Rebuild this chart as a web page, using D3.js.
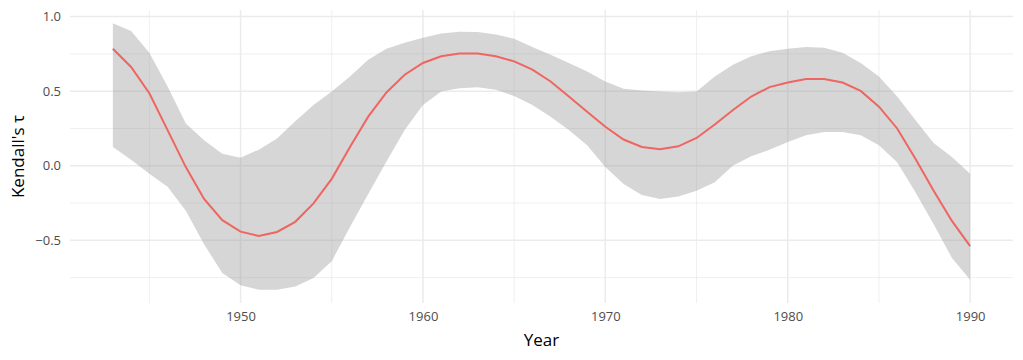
<!DOCTYPE html>
<html>
<head>
<meta charset="utf-8">
<script src="https://cdn.jsdelivr.net/npm/d3@7"></script>
<style>
  html, body { margin: 0; padding: 0; background: #fff; }
  svg { display: block; }
  text { font-family: "Open Sans", "Noto Sans", sans-serif; }
</style>
</head>
<body>
<div id="chart"></div>
<script>
const years = d3.range(1943, 1991);
const tau = [
  0.784, 0.662, 0.486, 0.239, -0.009, -0.223, -0.365, -0.442,
  -0.471, -0.444, -0.376, -0.252, -0.088, 0.126, 0.329, 0.491,
  0.610, 0.689, 0.734, 0.752, 0.752, 0.734, 0.700, 0.644,
  0.565, 0.464, 0.362, 0.261, 0.176, 0.126, 0.110, 0.130,
  0.186, 0.277, 0.374, 0.464, 0.527, 0.558, 0.581, 0.581,
  0.558, 0.502, 0.396, 0.250, 0.047, -0.167, -0.370, -0.539
];
const upper = [
  0.955, 0.903, 0.757, 0.531, 0.284, 0.171, 0.081, 0.054,
  0.108, 0.182, 0.299, 0.407, 0.497, 0.599, 0.711, 0.784,
  0.824, 0.858, 0.887, 0.899, 0.896, 0.880, 0.851, 0.797,
  0.745, 0.689, 0.632, 0.565, 0.516, 0.504, 0.497, 0.493,
  0.497, 0.599, 0.678, 0.734, 0.768, 0.784, 0.797, 0.791,
  0.757, 0.689, 0.599, 0.464, 0.306, 0.153, 0.058, -0.054
];
const lower = [
  0.126, 0.041, -0.054, -0.140, -0.302, -0.527, -0.719, -0.802,
  -0.831, -0.831, -0.809, -0.752, -0.640, -0.410, -0.189, 0.029,
  0.239, 0.407, 0.497, 0.520, 0.527, 0.509, 0.468, 0.407,
  0.329, 0.239, 0.137, -0.009, -0.122, -0.196, -0.223, -0.207,
  -0.167, -0.111, 0.002, 0.063, 0.108, 0.160, 0.205, 0.227,
  0.227, 0.205, 0.137, 0.024, -0.178, -0.392, -0.618, -0.764
];
const xTicks = [1950, 1960, 1970, 1980, 1990];
const xMinor = [1945, 1955, 1965, 1975, 1985];
const yTicks = [-0.5, 0.0, 0.5, 1.0];
const yMinor = [-0.75, -0.25, 0.25, 0.75];

const W = 1023, H = 360;
const m = { left: 70, right: 10, top: 10, bottom: 57 };

const data = years.map((y, i) => ({ year: y, tau: tau[i], lo: lower[i], hi: upper[i] }));

const xMin = d3.min(years), xMax = d3.max(years);
const xPad = (xMax - xMin) * 0.05;
const yLo = d3.min(lower), yHi = d3.max(upper);
const yPad = (yHi - yLo) * 0.05;

const x = d3.scaleLinear().domain([xMin - xPad, xMax + xPad]).range([m.left, W - m.right]);
const y = d3.scaleLinear().domain([yLo - yPad, yHi + yPad]).range([H - m.bottom, m.top]);

const svg = d3.select("#chart").append("svg").attr("width", W).attr("height", H);

const grid = svg.append("g");
// minor grid
grid.selectAll(".ym").data(yMinor).join("line")
  .attr("x1", m.left).attr("x2", W - m.right)
  .attr("y1", d => y(d)).attr("y2", d => y(d))
  .attr("stroke", "#ebebeb").attr("stroke-width", 0.8);
grid.selectAll(".xm").data(xMinor).join("line")
  .attr("y1", m.top).attr("y2", H - m.bottom)
  .attr("x1", d => x(d)).attr("x2", d => x(d))
  .attr("stroke", "#ebebeb").attr("stroke-width", 0.8);
// major grid
grid.selectAll(".yM").data(yTicks).join("line")
  .attr("x1", m.left).attr("x2", W - m.right)
  .attr("y1", d => y(d)).attr("y2", d => y(d))
  .attr("stroke", "#ebebeb").attr("stroke-width", 1.5);
grid.selectAll(".xM").data(xTicks).join("line")
  .attr("y1", m.top).attr("y2", H - m.bottom)
  .attr("x1", d => x(d)).attr("x2", d => x(d))
  .attr("stroke", "#ebebeb").attr("stroke-width", 1.5);

// ribbon
svg.append("path").datum(data)
  .attr("d", d3.area().x(d => x(d.year)).y0(d => y(d.lo)).y1(d => y(d.hi)))
  .attr("fill", "#999999").attr("fill-opacity", 0.4);

// line
svg.append("path").datum(data)
  .attr("d", d3.line().x(d => x(d.year)).y(d => y(d.tau)))
  .attr("fill", "none").attr("stroke", "#ee6561").attr("stroke-width", 2);

// axes (no lines, no ticks)
const xAxis = d3.axisBottom(x).tickValues(xTicks).tickSize(0).tickPadding(9).tickFormat(d3.format("d"));
const gx = svg.append("g").attr("transform", `translate(0,${H - m.bottom})`).call(xAxis);
gx.select(".domain").remove();
gx.selectAll("text").attr("fill", "#4d4d4d").style("font-size", "13px").style("font-family", "'Open Sans', sans-serif");

const yAxis = d3.axisLeft(y).tickValues(yTicks).tickSize(0).tickPadding(9).tickFormat(d3.format(".1f"));
const gy = svg.append("g").attr("transform", `translate(${m.left},0)`).call(yAxis);
gy.select(".domain").remove();
gy.selectAll("text").attr("fill", "#4d4d4d").style("font-size", "13px").style("font-family", "'Open Sans', sans-serif");

// titles
svg.append("text")
  .attr("x", (m.left + W - m.right) / 2).attr("y", 346)
  .attr("text-anchor", "middle").attr("fill", "#000")
  .style("font-size", "17px").text("Year");

svg.append("text")
  .attr("transform", `translate(24,${(m.top + H - m.bottom) / 2}) rotate(-90)`)
  .attr("text-anchor", "middle").attr("fill", "#000")
  .style("font-size", "17px").text("Kendall's τ");
</script>
</body>
</html>
